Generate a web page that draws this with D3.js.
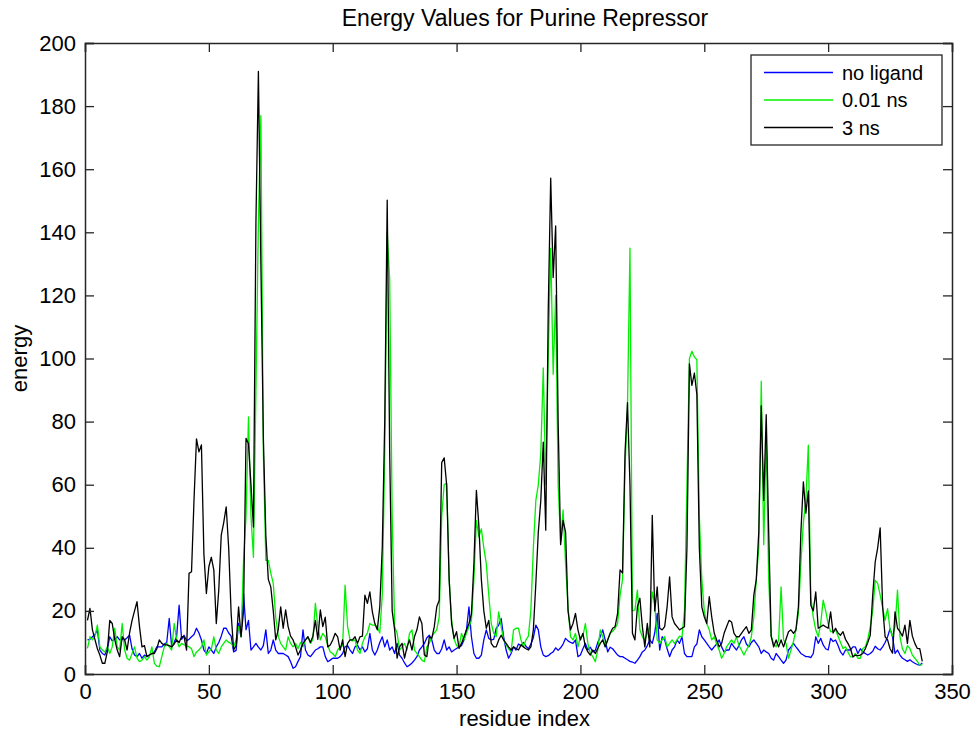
<!DOCTYPE html>
<html><head><meta charset="utf-8">
<script src="https://cdn.jsdelivr.net/npm/d3@7"></script>
<style>body{margin:0;background:#fff;} text{font-family:"Liberation Sans",Arial,Helvetica,sans-serif;}</style>
</head><body><svg id="c" width="979" height="733"></svg>
<script>
const title = "Energy Values for Purine Repressor";
const xLabel = "residue index";
const yLabel = "energy";
const seriesNames = ["no ligand", "0.01 ns", "3 ns"];
const seriesColors = ["#0000ff", "#00f000", "#000000"];
const xTicks = [0,50,100,150,200,250,300,350];
const yTicks = [0,20,40,60,80,100,120,140,160,180,200];

const noLigand = [
10.8,11,11.8,12.5,14,7.6,6.5,6,8,11.8,
10.5,11,11.8,10.8,11,10.8,11.5,12.3,8,6,
5.5,6.5,5,6,5.5,6,6.5,7,8.6,8.6,
8.6,9.5,10,17.6,8.6,10,12,21.8,11,12.3,
10.5,11,11.8,12.5,14.5,13,10.8,7.6,6.5,8.6,
7.6,6.5,8.6,10,12,14.5,14.5,13,12,7,
7.5,16,12,25.5,14,17,7.6,8.6,9.7,8.5,
7.6,9,14,6.5,7.6,10.8,7.6,6.5,6.5,6.5,
6,5.5,3.9,1.8,2.3,4,5.5,14,7.6,6,
5.5,6.5,7.6,8,8.6,8.6,5.5,3.9,4.4,5,
5,5,5.5,6.5,8.6,9,7.6,6.5,8.6,9.2,
7.6,8.6,7,8,12.9,7.6,6,7.6,10,11.8,
8.6,10.8,7.6,8.6,6.5,9.7,6,5,3.5,2.3,
2.8,3.5,4.4,5.5,7.6,8.6,9.7,11.5,12.3,10.8,
7.6,6.5,6.5,8,10.8,7.6,8.6,7,7.6,8.1,
8.6,9,10.8,14,21.3,11.8,6.5,5,5,6,
10.8,14,11.3,10.8,11,14.5,15.5,17.6,11.8,7.6,
5,6.5,8.6,7.6,9.5,9,10,8.8,8,9.5,
11.5,15.5,14,8.6,6,5.5,5.8,6.5,7,8.3,
7.5,8.3,9.5,11.3,10.5,10,9.7,10.8,5.5,6,
8,9.7,7.6,8.5,7,7.5,10,11.8,14,10.8,
7,8.5,8,7,6,5.5,5.5,5,4.5,4,
3.8,3.4,4.4,5.5,7,7.6,9,10.8,9.7,13,
19.2,7.6,11.8,10.8,8,5.5,7.6,8.6,10.8,9.7,
11.8,6.5,5.5,5.5,5.5,8.6,9.5,14,11.8,10.8,
9.7,8.6,7.6,8.6,9.5,10.8,8.6,7,7.6,7.6,
9.7,8.6,7.6,9,10.8,11.8,9.5,8.6,10,10.8,
9.7,8.6,6.5,7.6,7,6.5,5,4.4,6.5,5.5,
4.4,3.4,4.4,7.6,8.6,9.7,8.6,7.6,6.5,6,
5.5,5.5,5.2,6.5,11.8,9.7,11.3,9.2,8,7.6,
11.3,10.3,10.8,9,7,6,7.6,7.6,7.6,8.6,
8.6,6.5,8,7,6.5,6,6.5,7.2,8.8,8,
7.6,8.6,10,11.8,14.4,11.8,6.5,7.6,6,5,
4.5,4,4.5,3.9,3.4,3,2.8,3.5];

const ns001 = [
8.1,11.8,10.8,12,15.5,8.6,7.6,7,8.6,6.5,
8.6,14.5,8.6,7.6,16,7.6,5,4.4,6.5,8.6,
5,3.9,4.4,5.5,4.4,5.5,8.6,3.4,2.5,2.3,
5.5,8.6,9.7,8.6,7.6,16,10.8,8.6,9.7,9.2,
9,8.6,8,5.5,7,7.6,8.6,10.8,6,7,
8,11.8,7.6,6.5,8.6,9.7,10.8,10,9.7,8.6,
10.8,15,11.8,36,50,81.5,50,37,90,143,
177,70,36,36,32,28.7,18,12,9.7,8.6,
7.6,11.8,9.7,8.6,9.7,8,10,8.6,10.8,11.8,
9.7,11,22.4,15,10.8,12.9,11.8,9,7,6.5,
5.5,7.6,8.6,9,28.2,15,10.8,10.5,10.8,7.6,
6.5,9.7,11.8,13,16,15.5,15.5,15,13,25,
70,140,125,50,15,12.9,7.6,8.6,9.7,7.6,
12.9,14,7.6,6.5,5.5,4.4,3.9,8.6,9.7,11.8,
13,14,18.1,50,60,60.4,30,17,11,9,
8.6,12.9,10.8,12.9,15,17,30,48.7,43.5,46,
40,35,25,16,12.9,11.8,19.7,15,10.8,9.2,
8,7,14,14.5,14.5,10.8,8.6,10.8,12,20.3,
40,55,60,70,97,60,100,135,95,120,
60,42,52,35,21,11.8,10.8,12.9,8.6,11.8,
12,16,9.7,6.5,5.5,3.9,7.6,14,11.8,8.6,
10.8,12.9,13.5,14.5,16,25,30,65,85,135,
20,20.3,26.6,14,11.8,10.8,12.9,15,26,22,
10.8,9.7,10.8,11.8,8.6,9.7,10.8,9.7,10.8,12,
11.8,20,60,100,102.3,100.5,99.6,50,30,20,
16,14,10.8,11.8,9.5,7.6,5,6.5,8.6,9.7,
10.8,9.7,11.8,9,7.6,6,7.6,9,11.8,18,
30,40,92.8,41,75,30,12,9.7,8.6,10.8,
27.6,10.8,9.7,5,7.6,10.3,14,19.2,35,48,
55,72.5,24.5,18,14,11.8,16,23.4,20,16,
13.4,13.4,14,12,10,8.1,8.6,7,5.4,5.5,
6.5,5,5,8.1,8.6,11,14.9,20,29.7,28.7,
25,21,17,20.7,14,12,15,26.6,11.8,8,
6.5,9,8.1,6,5,4,2.8,3];

const ns3 = [
17,20.8,14,11,8,6,3.4,3.4,7,17,
16,11,7.6,5.5,11.8,10.8,7.6,13,17,20,
22.9,15,8.6,9,5.5,6,6.5,6.5,8,10.8,
9.7,9.2,9.2,9,8.6,9.5,10.8,10,11.8,11.8,
7.6,31.9,32.4,55,74.5,70.4,72.6,38,25.5,34,
37,33,16,26.6,44,48,53,40,19.2,7.6,
9,21.3,11.8,20,74.7,73,60,46.6,143,191,
130,75,44,30,27.6,20,10.8,14,21.3,14.5,
20.3,15,12,10.8,8.6,6,7.6,9.7,10.8,11.8,
10,12,17,11,20.3,15,18,8.6,9.2,10.8,
12.9,11.8,7.6,10.8,5.5,9.7,10.8,10.8,11.8,9.7,
11.8,12,25,22.4,26,19.7,16,14,21.3,40,
80,150.2,70,20,14,5,8.6,9.7,5,8.6,
10.8,7.6,11.8,14,18.1,16,6,5.5,11.8,11.3,
15,21.3,23.4,67,68.5,60,30,16,11.3,13.4,
8.1,9.7,11.8,14,16,19,35,58.2,47,30,
20,14.5,17,9.7,8.6,8.6,10.8,12.3,10.8,9.7,
8.6,7.6,8.6,8.1,7.6,9.2,8.6,8,7.6,8.6,
14,28.7,45,55,73.5,45.6,115,157.2,125.7,142,
80,41,48.7,45,20,14,16,19.2,14,10.8,
12.9,8.6,7,6,7.6,6.5,8.1,9.7,10.8,8.6,
10.8,12.9,14.5,15,19.2,33,32,70,86,60,
12.9,10.8,21.3,24,15,8.6,16,8.6,50.3,20,
27.6,14.5,14,15,21.3,30.8,18.1,16,15,14,
14.5,15,40,98.3,91.5,95.4,88.6,40,21.3,18.1,
16,24.5,18.1,13,10.8,8.6,9.7,12.9,15,17,
16.5,12.9,11.8,11.8,12.9,14,15,12.9,14,25,
30,45,85,55,82.2,45,12,8.6,10.8,8.6,
10.8,8.6,11,13.4,14,12.9,14,21.3,45,60.9,
51,58,21.8,20,26,14.5,15,15.5,15,14.5,
19.7,13,14.5,13,12.3,13.4,11,9.7,8.1,5.4,
6,5.8,6,6.5,8,10,12.3,25,35.5,40,
46.3,21.3,11.8,10.8,8,6.6,19.7,14.5,13.4,12,
15.5,9.7,17,12,9.7,8.1,8,4];

const series = [noLigand, ns001, ns3];

const svg = d3.select("#c");
const L = 85, R = 952, T = 43, B = 674;
const x = d3.scaleLinear().domain([0,350]).range([L,R]);
const y = d3.scaleLinear().domain([0,200]).range([B,T]);
const axisCol = "#262626";
const fs = 22;

svg.append("rect").attr("x",0).attr("y",0).attr("width",979).attr("height",733).attr("fill","#fff");

// lines
svg.append("clipPath").attr("id","pc").append("rect")
  .attr("x",L).attr("y",T).attr("width",R-L).attr("height",B-T);
const g = svg.append("g").attr("clip-path","url(#pc)");
series.forEach((s,k)=>{
  const line = d3.line().x((d,i)=>x(i+1)).y(d=>y(d));
  g.append("path").datum(s).attr("d",line).attr("fill","none")
    .attr("stroke",seriesColors[k]).attr("stroke-width",1.3).attr("stroke-linejoin","round");
});

// axes
const tl = 9;
const xb = svg.append("g").attr("transform",`translate(0,${B})`)
  .call(d3.axisBottom(x).tickValues(xTicks).tickSize(-tl).tickPadding(9).tickFormat(d3.format("d")));
const xt = svg.append("g").attr("transform",`translate(0,${T})`)
  .call(d3.axisTop(x).tickValues(xTicks).tickSize(-tl).tickFormat(""));
const yl = svg.append("g").attr("transform",`translate(${L},0)`)
  .call(d3.axisLeft(y).tickValues(yTicks).tickSize(-tl).tickPadding(9).tickFormat(d3.format("d")));
const yr = svg.append("g").attr("transform",`translate(${R},0)`)
  .call(d3.axisRight(y).tickValues(yTicks).tickSize(-tl).tickFormat(""));
[xb,xt,yl,yr].forEach(a=>{
  a.select(".domain").attr("stroke",axisCol).attr("stroke-width",1.5);
  a.selectAll(".tick line").attr("stroke",axisCol).attr("stroke-width",1.3);
  a.selectAll(".tick text").attr("fill","#000").style("font-size",fs+"px")
   .style("font-family","'Liberation Sans',Arial,sans-serif");
});

// labels
svg.append("text").attr("x",525).attr("y",26).attr("text-anchor","middle")
  .style("font-size","23px").text(title);
svg.append("text").attr("x",(L+R)/2 + 6).attr("y",726).attr("text-anchor","middle")
  .style("font-size",fs+"px").text(xLabel);
svg.append("text").attr("transform",`translate(27,${(T+B)/2}) rotate(-90)`).attr("text-anchor","middle")
  .style("font-size",fs+"px").text(yLabel);

// legend
const lg = svg.append("g");
lg.append("rect").attr("x",751).attr("y",55).attr("width",191).attr("height",90)
  .attr("fill","#fff").attr("stroke",axisCol).attr("stroke-width",1.3);
seriesNames.forEach((n,k)=>{
  const yy = 72.5 + k*27.5;
  lg.append("line").attr("x1",764).attr("x2",833).attr("y1",yy).attr("y2",yy)
    .attr("stroke",seriesColors[k]).attr("stroke-width",1.3);
  lg.append("text").attr("x",842).attr("y",yy+7).style("font-size","20px").text(n);
});
</script></body></html>
